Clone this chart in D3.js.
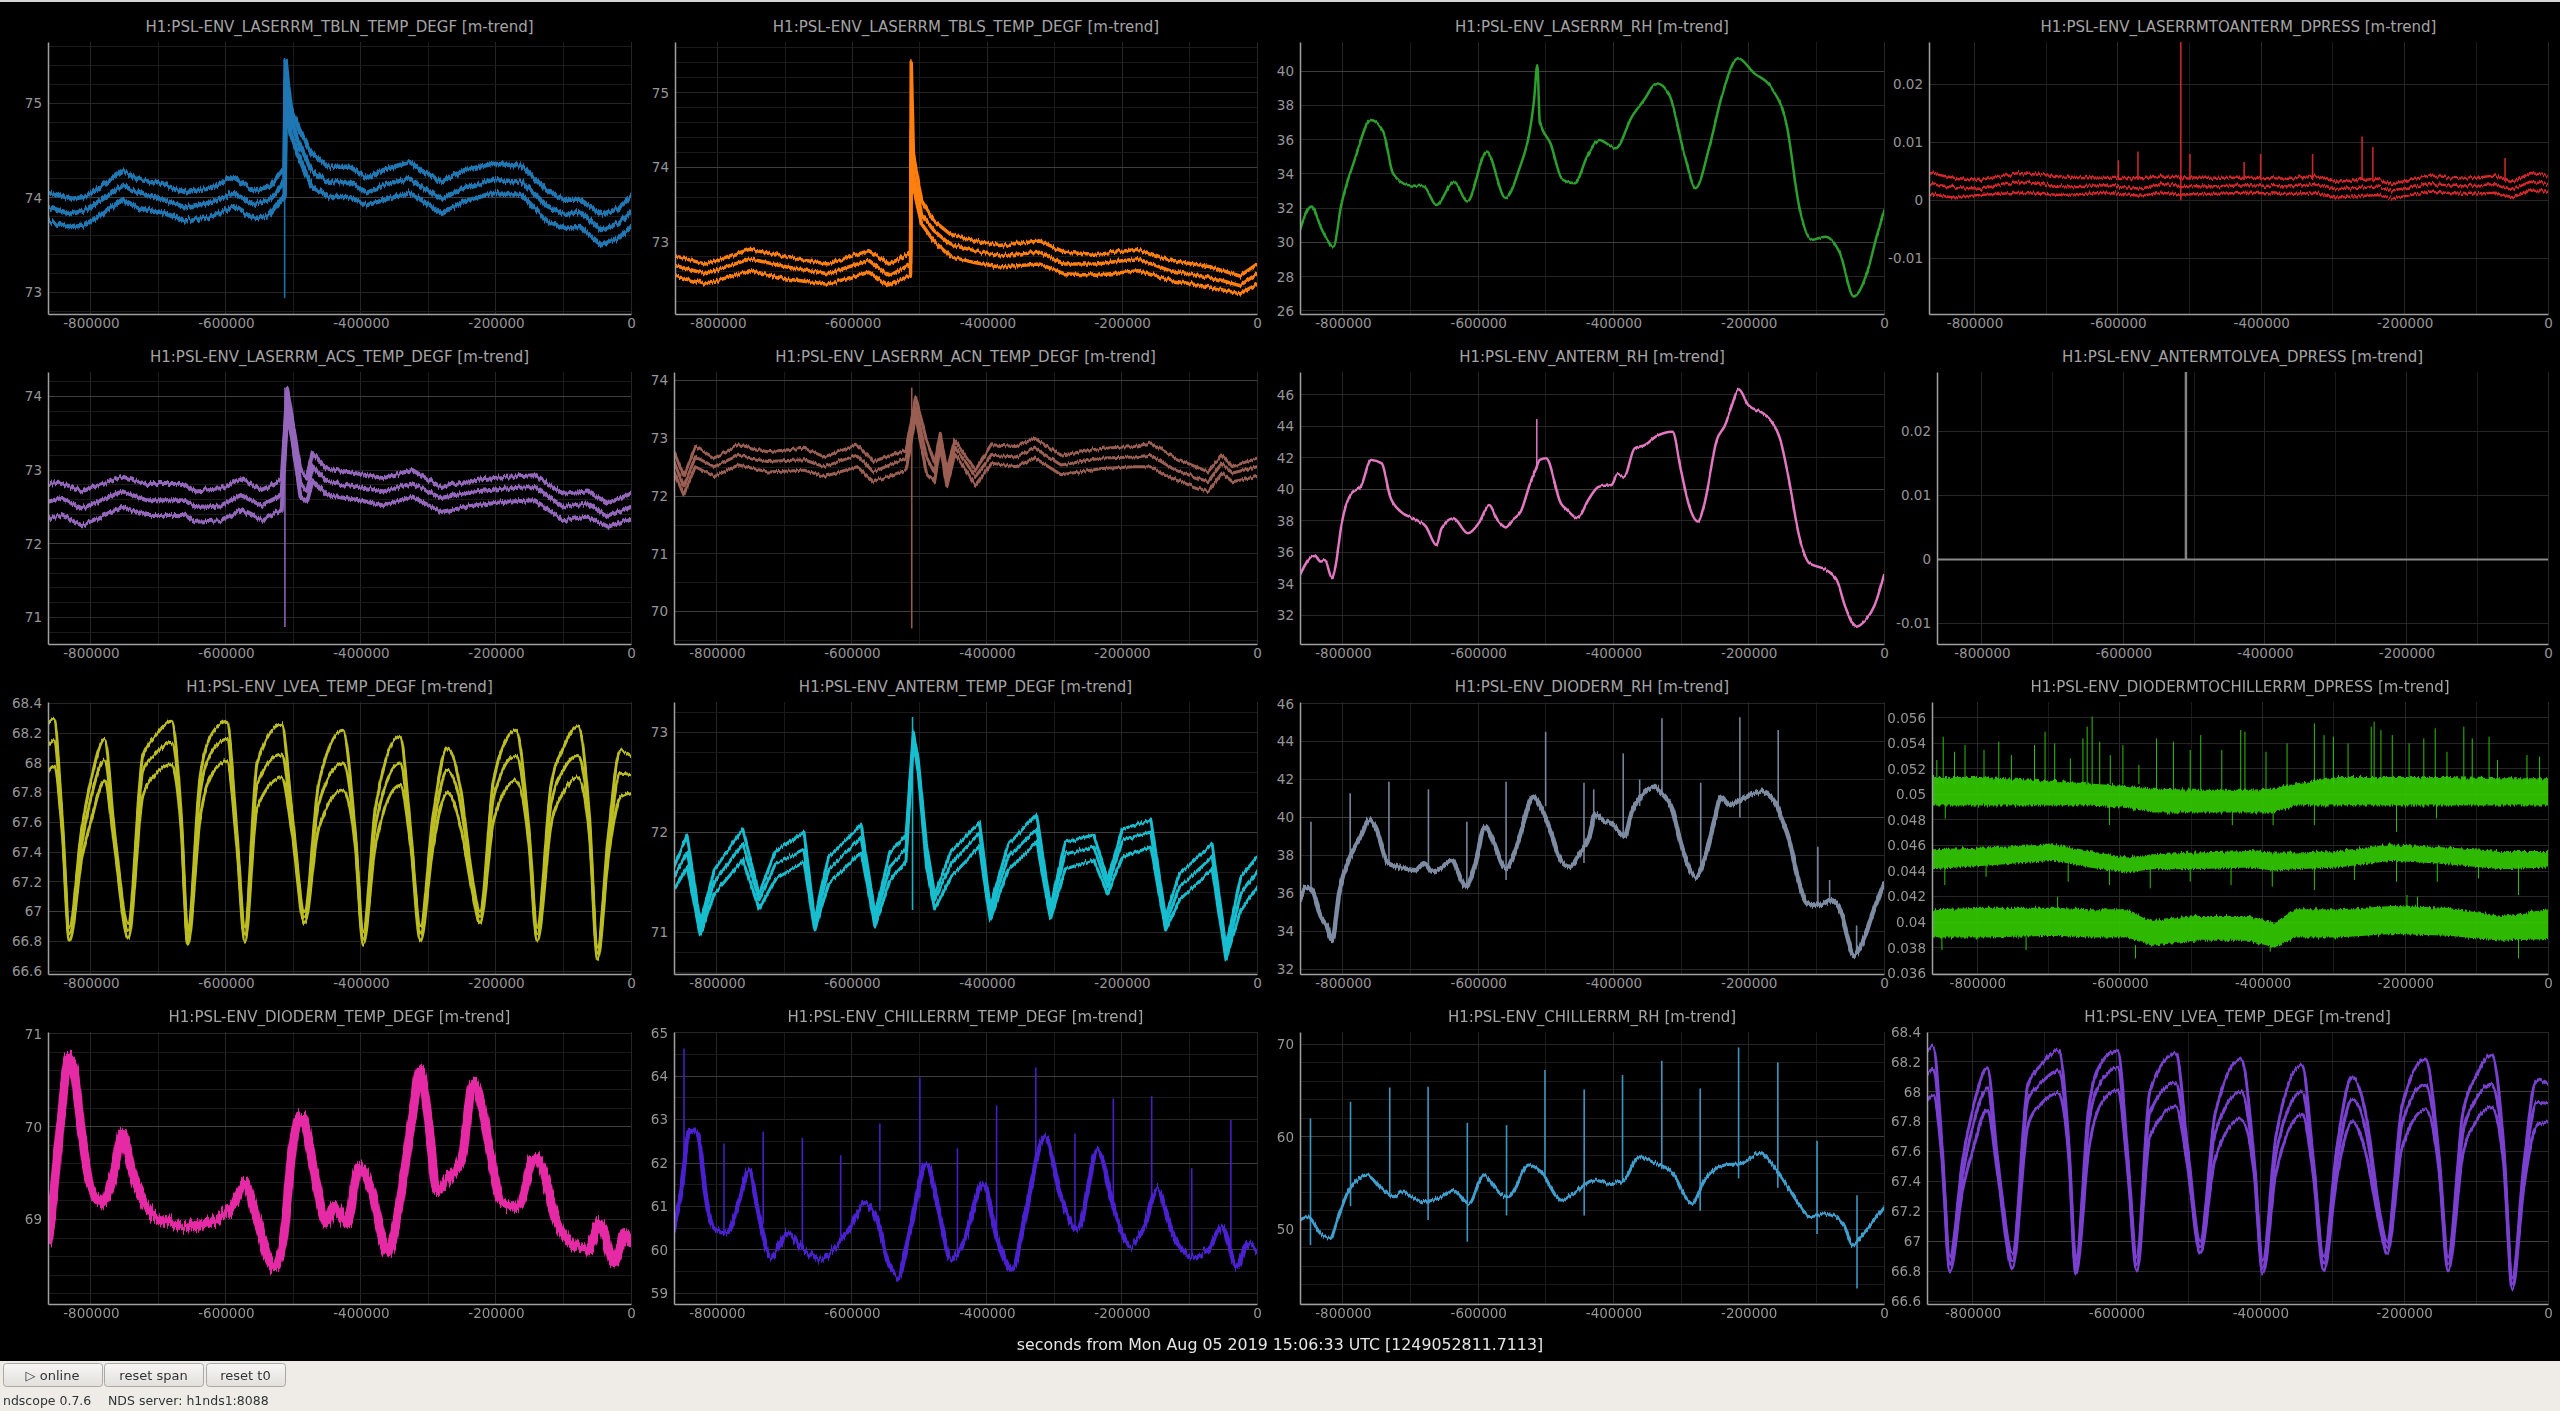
<!DOCTYPE html>
<html>
<head>
<meta charset="utf-8">
<script src="https://cdn.jsdelivr.net/npm/d3@7"></script>
<style>
  html, body { margin: 0; padding: 0; background: #000; }
  body { width: 2560px; height: 1411px; overflow: hidden; font-family: "DejaVu Sans", sans-serif; }
</style>
</head>
<body>
<svg id="chart" width="2560" height="1411"></svg>
<script>
// shared time axis (seconds before t0)
const timeDomain = [-863500, 0];
const timeTicks = [-800000, -600000, -400000, -200000, 0];

// LASERRM_TBLN_TEMP_DEGF
const tblnTicks = [73, 74, 75];
const tblnT = [-863600,-828000,-809000,-784000,-753000,-728000,-697000,-660000,-623000,-588000,-560000,-535000,-518000,-513000,-511500,-508000,-504000,-492000,-473000,-448000,-417000,-392000,-361000,-327000,-311000,-280000,-249000,-205000,-162000,-125000,-100000,-75000,-44000,-19000,0];
const tblnMax = [74.06,73.99,74.01,74.12,74.29,74.19,74.15,74.06,74.10,74.22,74.08,74.12,74.27,74.32,75.45,75.19,74.96,74.73,74.47,74.33,74.33,74.22,74.31,74.38,74.29,74.17,74.29,74.36,74.34,74.08,73.98,73.98,73.82,73.89,74.01];
const tblnMean = [73.90,73.83,73.87,73.98,74.13,74.05,73.99,73.90,73.95,74.05,73.93,73.98,74.12,74.18,75.25,75.03,74.85,74.57,74.29,74.16,74.17,74.06,74.15,74.20,74.12,73.99,74.10,74.19,74.17,73.92,73.83,73.85,73.66,73.73,73.85];
const tblnMin = [73.75,73.69,73.71,73.83,73.98,73.89,73.85,73.76,73.80,73.91,73.78,73.82,73.98,74.02,75.00,74.85,74.68,74.43,74.12,74.01,74.01,73.92,73.99,74.05,73.98,73.83,73.96,74.05,74.03,73.76,73.68,73.69,73.50,73.57,73.69];
const tblnSpikes = [[-513000, 72.94, 75.48]];

// LASERRM_TBLS_TEMP_DEGF
const tblsTicks = [73, 74, 75];
const tblsT = [-863500,-818600,-752000,-697500,-637000,-576000,-546000,-522000,-514000,-513000,-509800,-497700,-479500,-455000,-419000,-382700,-322000,-285800,-237400,-176800,-128400,-67800,-25400,0];
const tblsMax = [72.81,72.70,72.90,72.79,72.70,72.88,72.70,72.81,72.85,75.40,74.17,73.55,73.28,73.10,73.01,72.95,73.01,72.86,72.83,72.90,72.75,72.66,72.54,72.70];
const tblsMean = [72.68,72.57,72.77,72.66,72.57,72.75,72.54,72.66,72.70,74.50,73.91,73.37,73.15,72.96,72.88,72.81,72.86,72.70,72.70,72.77,72.61,72.52,72.41,72.57];
const tblsMin = [72.54,72.43,72.61,72.50,72.43,72.59,72.41,72.52,72.55,74.20,73.73,73.24,73.01,72.80,72.72,72.66,72.70,72.57,72.55,72.61,72.48,72.39,72.30,72.43];
const tblsSpikes = [[-513500, 72.6, 75.45]];

// LASERRM_RH
const laserRhTicks = [26, 28, 30, 32, 34, 36, 38, 40];
const laserRhT = [-863500,-846600,-831000,-814000,-803000,-782700,-758600,-740500,-726000,-704300,-680000,-662100,-635600,-616300,-587300,-559600,-541500,-517400,-512600,-509000,-493200,-475100,-457100,-439000,-420900,-396800,-372700,-354600,-336500,-318400,-294300,-278600,-258100,-240000,-215900,-191800,-167600,-143500,-125400,-107300,-86800,-65100,-44600,-25300,-10900,0];
const laserRh = [30.73,32.1,30.73,29.76,32.1,34.82,37.16,36.48,34.04,33.36,33.26,32.19,33.56,32.39,35.31,32.6,34.04,38.33,40.37,37.06,35.79,33.65,33.46,35.02,35.99,35.5,37.35,38.33,39.3,38.71,35.02,33.17,35.6,38.52,40.76,39.88,39.1,36.77,32.1,30.15,30.34,29.37,26.84,28.2,30.34,31.8];

// LASERRMTOANTERM_DPRESS
const lapTicks = [-0.01, 0, 0.01, 0.02];
const lapT = [-863500,-829000,-792800,-738300,-678000,-617400,-569000,-538800,-514000,-478300,-417900,-357400,-327000,-296900,-236400,-218300,-163900,-115500,-73200,-49000,-24800,0];
const lapMax = [0.0047,0.0039,0.0035,0.0047,0.0041,0.0039,0.0038,0.0041,0.0040,0.0039,0.0039,0.0037,0.0043,0.0032,0.0037,0.0028,0.0043,0.0037,0.0043,0.0032,0.0047,0.0043];
const lapMean = [0.0028,0.0023,0.0020,0.0032,0.0024,0.0026,0.0020,0.0028,0.0025,0.0024,0.0026,0.0024,0.0028,0.0019,0.0024,0.0017,0.0028,0.0024,0.0028,0.0019,0.0032,0.0028];
const lapMin = [0.0011,0.0005,0.0009,0.0013,0.0009,0.0013,0.0008,0.0013,0.0010,0.0011,0.0013,0.0011,0.0013,0.0005,0.0009,0.0003,0.0015,0.0011,0.0013,0.0005,0.0017,0.0015];
const lapSpikes = [[-599300,0.0035,0.0069],[-572000,0.0035,0.0084],[-512200,0,0.0275],[-499500,0.0035,0.0080],[-423900,0.0035,0.0066],[-400900,0.0035,0.0080],[-328400,0.0035,0.0080],[-259400,0.0035,0.0110],[-244300,0.0035,0.0092],[-59900,0.0035,0.0073]];

// LASERRM_ACS_TEMP_DEGF
const acsTicks = [71, 72, 73, 74];
const acsT = [-863500,-844000,-813700,-753200,-717000,-662500,-644400,-608100,-577900,-547700,-517400,-509000,-499300,-489600,-480000,-471500,-451000,-402600,-366300,-324000,-281700,-233300,-185000,-142700,-100300,-64100,-33900,0];
const acsMax = [72.81,72.83,72.71,72.91,72.81,72.81,72.71,72.74,72.89,72.73,72.86,74.09,73.54,73.00,72.91,73.23,73.02,72.95,72.89,73.00,72.77,72.86,72.91,72.93,72.68,72.71,72.55,72.68];
const acsMean = [72.57,72.62,72.48,72.71,72.59,72.59,72.50,72.52,72.66,72.52,72.66,73.93,73.41,72.82,72.73,73.05,72.84,72.77,72.71,72.82,72.62,72.71,72.75,72.77,72.50,72.55,72.37,72.50];
const acsMin = [72.34,72.39,72.25,72.50,72.39,72.39,72.30,72.32,72.46,72.32,72.46,73.81,73.27,72.64,72.57,72.86,72.66,72.59,72.52,72.64,72.43,72.52,72.57,72.59,72.32,72.37,72.23,72.34];
const acsSpikes = [[-512600, 70.87, 74.12]];

// LASERRM_ACN_TEMP_DEGF
const acnTicks = [70, 71, 72, 73, 74];
const acnT = [-863500,-849000,-832000,-804000,-767700,-725400,-671000,-640800,-592400,-568200,-519900,-505400,-489600,-477500,-469100,-459400,-447300,-417100,-392900,-356700,-328900,-290200,-229700,-181400,-157200,-120900,-72500,-52000,-36300,0];
const acnMax = [72.77,72.34,72.86,72.66,72.89,72.77,72.83,72.68,72.89,72.60,72.80,73.72,72.97,72.57,73.09,72.45,72.97,72.45,72.89,72.86,73.00,72.71,72.83,72.86,72.92,72.66,72.42,72.71,72.51,72.66];
const acnMean = [72.60,72.16,72.68,72.51,72.71,72.60,72.63,72.51,72.71,72.42,72.66,73.55,72.68,72.40,72.97,72.31,72.86,72.34,72.71,72.68,72.83,72.54,72.66,72.68,72.71,72.45,72.25,72.57,72.40,72.51];
const acnMin = [72.42,72.02,72.51,72.34,72.54,72.42,72.45,72.34,72.51,72.25,72.45,73.38,72.40,72.25,72.86,72.16,72.74,72.19,72.57,72.51,72.66,72.37,72.48,72.51,72.51,72.28,72.08,72.40,72.25,72.34];
const acnSpikes = [[-511400, 69.71, 73.88]];

// ANTERM_RH
const antRhTicks = [32, 34, 36, 38, 40, 42, 44, 46];
const antRhT = [-863500,-842300,-833000,-826700,-816100,-811100,-801800,-787500,-773800,-758200,-742700,-730200,-714600,-692800,-677300,-661700,-654200,-636800,-615000,-599400,-583800,-571400,-558900,-549600,-537100,-521500,-515200,-509000,-499600,-477800,-468400,-452900,-437300,-421700,-403000,-393600,-384300,-368700,-353100,-337500,-312700,-300300,-287800,-275300,-266000,-247300,-234900,-225500,-214900,-200600,-178800,-166300,-153900,-141400,-125800,-110300,-85400,-69800,-57300,-41700,-26200,-13700,0];
const antRh = [34.56,35.83,35.41,35.51,34.35,35.09,37.84,39.74,40.16,41.86,41.64,39.53,38.58,38.09,37.63,36.46,37.52,38.16,37.2,37.84,39.0,38.05,37.58,38.05,38.58,40.59,41.22,41.86,41.96,39.11,38.68,38.16,39.32,40.16,40.27,40.97,40.8,42.6,42.81,43.34,43.65,41.22,38.9,37.95,39.0,43.12,44.08,45.24,46.34,45.34,44.82,44.29,43.23,40.8,37.1,35.3,34.88,34.24,32.55,31.28,31.75,32.66,34.56];
const antRhSpikes = [[-513400, 41.3, 44.45]];

// ANTERMTOLVEA_DPRESS
const alvTicks = [-0.01, 0, 0.01, 0.02];
const alvT = [-863500, 0];
const alvV = [0, 0];
const alvSpikes = [[-511700, 0, 0.0293]];

// LVEA_TEMP_DEGF (shown twice)
const lveaTicks = [66.6, 66.8, 67, 67.2, 67.4, 67.6, 67.8, 68, 68.2, 68.4];
const lveaT = [-863500,-854800,-842700,-831800,-813700,-799100,-779800,-765300,-744700,-723000,-704800,-680700,-666200,-656500,-638400,-620200,-598500,-584000,-571900,-553700,-517500,-501700,-483600,-463000,-426800,-408600,-396600,-378400,-342100,-326400,-311900,-293800,-272000,-251500,-235800,-223700,-203100,-170500,-151100,-139000,-118500,-100300,-78600,-61700,-49600,-33900,-15700,0];
const lveaMax = [68.27,68.30,67.65,66.90,67.55,67.90,68.16,67.55,66.92,68.05,68.18,68.28,67.65,66.87,67.90,68.20,68.28,67.55,66.90,68.00,68.26,67.65,67.00,67.85,68.22,67.55,66.87,67.70,68.18,67.55,66.90,67.62,68.10,67.80,67.25,67.00,67.90,68.22,67.55,66.90,67.85,68.10,68.25,67.65,66.76,67.50,68.08,68.05];
const lveaMean = [68.12,68.15,67.60,66.85,67.45,67.78,68.02,67.50,66.87,67.95,68.06,68.14,67.60,66.82,67.80,68.08,68.16,67.50,66.85,67.86,68.06,67.58,66.96,67.72,68.00,67.50,66.82,67.58,68.00,67.50,66.85,67.52,67.95,67.70,67.20,66.96,67.78,68.05,67.50,66.85,67.72,67.95,68.05,67.58,66.72,67.42,67.93,67.92];
const lveaMin = [67.94,67.98,67.55,66.80,67.35,67.62,67.88,67.45,66.82,67.78,67.92,67.99,67.55,66.78,67.62,67.93,68.01,67.45,66.80,67.70,67.90,67.52,66.92,67.55,67.82,67.45,66.78,67.45,67.85,67.45,66.80,67.42,67.80,67.55,67.15,66.92,67.62,67.88,67.45,66.80,67.58,67.80,67.90,67.52,66.68,67.35,67.77,67.80];

// ANTERM_TEMP_DEGF
const antTTicks = [71, 72, 73];
const antTT = [-863500,-844000,-824700,-804000,-761700,-737500,-713300,-671000,-655200,-634700,-586300,-565800,-544000,-519900,-509000,-501700,-489600,-477500,-453400,-411100,-395300,-368700,-326400,-305900,-284100,-241800,-221300,-199500,-157200,-135400,-114900,-66500,-45900,-24200,0];
const antTMax = [71.65,71.97,71.08,71.62,72.03,71.38,71.81,72.00,71.13,71.75,72.07,71.18,71.79,71.97,73.00,72.72,71.88,71.38,71.80,72.10,71.25,71.87,72.18,71.25,71.90,71.97,71.52,72.03,72.12,71.15,71.58,71.88,70.85,71.55,71.75];
const antTMean = [71.55,71.80,71.03,71.50,71.88,71.32,71.68,71.83,71.08,71.62,71.95,71.13,71.65,71.83,72.95,72.65,71.78,71.32,71.68,71.99,71.18,71.75,72.03,71.20,71.78,71.85,71.45,71.92,72.00,71.08,71.45,71.75,70.78,71.38,71.60];
const antTMin = [71.42,71.65,70.97,71.38,71.72,71.23,71.53,71.70,71.02,71.48,71.80,71.05,71.52,71.70,72.90,72.59,71.65,71.23,71.55,71.85,71.12,71.62,71.90,71.13,71.63,71.72,71.38,71.75,71.85,71.02,71.32,71.63,70.73,71.22,71.45];
const antTSpikes = [[-510200, 71.22, 73.15]];

// DIODERM_RH
const dioRhTicks = [32, 34, 36, 38, 40, 42, 44, 46];
const dioRhT = [-863500,-854800,-845400,-833000,-823600,-816100,-804900,-789300,-773800,-761300,-752000,-733300,-717700,-692800,-680300,-667800,-655400,-639800,-618000,-605500,-589900,-580600,-558800,-543300,-518300,-509000,-493400,-480900,-465400,-449800,-434200,-427900,-415500,-399900,-384300,-371800,-359300,-340600,-328200,-312600,-300300,-278400,-262900,-250400,-241000,-228600,-213000,-181900,-160100,-150700,-141400,-128900,-113300,-94700,-79100,-63500,-54200,-44900,-32400,-16800,0];
const dioRh = [35.64,36.34,36.17,34.76,34.23,33.53,36.17,37.93,38.98,39.86,39.51,37.58,37.40,37.22,37.58,37.14,37.31,37.75,36.34,37.40,39.51,38.98,37.31,38.45,41.09,40.65,39.33,37.93,37.40,38.10,39.16,40.21,39.86,39.60,38.98,40.39,41.09,41.62,41.27,40.39,38.63,36.87,38.10,39.86,41.09,40.65,40.91,41.35,40.74,39.86,38.98,37.04,35.46,35.38,35.64,35.03,33.71,32.74,33.36,34.94,36.52];
const dioRhSpikes = [[-847300,36.2,39.77],[-789300,37.9,41.27],[-732000,37.6,41.88],[-673600,37.4,41.48],[-616800,36.4,39.77],[-558800,36.7,41.88],[-500300,40.6,44.52],[-443600,37.6,41.83],[-429200,39.5,41.48],[-385600,38.9,43.38],[-361300,40.6,42.0],[-328300,41.3,45.23],[-271000,37.5,41.83],[-213100,40.0,45.28],[-156400,40.4,44.61],[-97800,35.4,38.45],[-80400,35.5,36.7],[-40500,32.9,34.3]];

// DIODERMTOCHILLERRM_DPRESS (min / mean / max envelopes)
const dpTicks = [0.036, 0.038, 0.04, 0.042, 0.044, 0.046, 0.048, 0.05, 0.052, 0.054, 0.056];
const dpT = [-863200,-790600,-690300,-643100,-590000,-554600,-495600,-418900,-383500,-354000,-295000,-218300,-141600,-64900,0];
const dpMaxHi = [0.0513,0.0513,0.0510,0.0508,0.0506,0.0504,0.0503,0.0503,0.0504,0.0508,0.0513,0.0513,0.0513,0.0512,0.0512];
const dpMaxLo = [0.0492,0.0492,0.0492,0.0492,0.0490,0.04865,0.04865,0.04865,0.04865,0.0492,0.0492,0.0492,0.0492,0.0492,0.0492];
const dpMeanHi = [0.04565,0.04578,0.04604,0.04552,0.04500,0.04526,0.04539,0.04552,0.04539,0.04539,0.04552,0.04604,0.04578,0.04552,0.04552];
const dpMeanLo = [0.04421,0.04447,0.04487,0.04434,0.04395,0.04421,0.04421,0.04434,0.04408,0.04421,0.04434,0.04487,0.04460,0.04421,0.04434];
const dpMinHi = [0.04095,0.04108,0.04108,0.04095,0.04095,0.04004,0.04043,0.04043,0.0399,0.04095,0.04095,0.04122,0.04108,0.04043,0.04095];
const dpMinLo = [0.03887,0.03887,0.03900,0.03887,0.03887,0.03822,0.03861,0.03861,0.03809,0.03887,0.03887,0.03913,0.03900,0.03861,0.03874];
const dpSpikes = [
  [-856700,0.0508,0.05269],[-847800,0.0508,0.05451],[-831900,0.0508,0.05334],[-817200,0.0508,0.05386],[-790600,0.0508,0.05347],
  [-769900,0.0508,0.05412],[-752200,0.0508,0.05308],[-719800,0.0508,0.05386],[-705000,0.0508,0.05490],[-691500,0.0508,0.05399],
  [-669600,0.0508,0.05282],[-651900,0.0508,0.05438],[-646000,0.0508,0.05530],[-639000,0.0508,0.05608],[-628400,0.0508,0.05412],
  [-613600,0.0508,0.05308],[-595900,0.0508,0.05386],[-573500,0.0508,0.05230],[-548700,0.0503,0.05438],[-525100,0.0503,0.05412],
  [-501500,0.0503,0.05347],[-486800,0.0503,0.05464],[-457300,0.0503,0.05347],[-430700,0.0503,0.05504],[-424800,0.0503,0.05490],
  [-395300,0.0503,0.05334],[-365800,0.0503,0.05399],[-327500,0.0508,0.05556],[-313900,0.0508,0.05464],[-300900,0.0508,0.05451],
  [-280300,0.0508,0.05399],[-247800,0.0508,0.05530],[-243700,0.0508,0.05569],[-234200,0.0508,0.05504],[-218300,0.0508,0.05464],
  [-194700,0.0508,0.05399],[-174100,0.0508,0.05438],[-158100,0.0508,0.05517],[-141600,0.0508,0.05334],[-118000,0.0508,0.05530],
  [-106200,0.0508,0.05438],[-82600,0.0508,0.05451],[-70800,0.0508,0.05269],[-29500,0.0508,0.05308],[-11800,0.0508,0.05295],
  [-844900,0.0481,0.0492],[-614800,0.0476,0.0492],[-442500,0.0476,0.0487],[-385300,0.0476,0.0487],[-327500,0.0476,0.0492],
  [-212400,0.04708,0.0492],[-156400,0.04813,0.0492],
  [-845500,0.04291,0.0445],[-787700,0.04356,0.0445],[-672600,0.04317,0.0445],[-614800,0.04291,0.0444],[-557600,0.04265,0.0444],
  [-501500,0.04317,0.0444],[-444300,0.04291,0.0444],[-386500,0.04278,0.0444],[-327500,0.04252,0.0444],[-271400,0.0433,0.0445],
  [-212400,0.04317,0.0448],[-155200,0.04317,0.0446],[-97400,0.04343,0.0445],[-41300,0.04213,0.0445],
  [-687400,0.0409,0.0420],[-197700,0.0411,0.04213],[-182900,0.0411,0.0420],
  [-849600,0.03783,0.0389],[-731600,0.03783,0.0389],[-578200,0.03717,0.0382],[-389400,0.0377,0.0381],[-41300,0.03717,0.0386]
];

// DIODERM_TEMP_DEGF
const dtTicks = [69, 70, 71];
const dtT = [-863500,-858600,-852600,-844000,-831800,-825800,-813700,-801600,-783400,-765300,-753200,-741100,-723000,-704800,-680700,-650400,-626200,-608100,-590000,-571900,-553700,-529500,-517400,-499300,-487200,-469000,-450900,-438800,-420700,-402600,-384500,-360300,-342100,-324000,-311900,-299800,-287700,-269600,-251500,-233300,-218800,-209200,-191100,-166900,-142700,-130600,-112400,-88300,-64100,-45900,-25400,-9700,0];
const dtV = [68.75,69.03,69.46,70.11,70.75,70.65,69.93,69.39,69.18,69.51,69.93,69.57,69.21,69.03,68.96,68.92,68.96,69.03,69.14,69.39,68.99,68.49,68.67,69.89,70.11,69.50,68.96,69.14,68.96,69.57,69.32,68.64,69.21,70.11,70.61,70.04,69.32,69.46,69.64,70.47,70.14,69.75,69.18,69.14,69.68,69.54,69.03,68.75,68.67,68.96,68.53,68.85,68.75];

// CHILLERRM_TEMP_DEGF
const chilTicks = [59, 60, 61, 62, 63, 64, 65];
const chilT = [-863500,-852600,-840500,-828400,-816300,-804200,-786100,-768000,-752300,-737800,-719600,-695400,-671300,-647100,-628900,-604500,-580500,-562200,-550100,-532000,-513800,-489600,-471500,-453400,-435200,-405000,-386800,-362700,-344500,-314300,-290200,-266000,-235800,-211600,-187400,-169300,-147500,-127000,-96700,-72500,-52000,-30200,-12100,0];
const chilV = [60.46,61.38,62.76,62.68,61.22,60.53,60.38,61.07,61.84,60.77,59.84,60.38,60.0,59.77,60.0,60.46,61.07,60.69,59.92,59.38,60.46,61.99,60.92,59.77,60.15,61.53,60.38,59.54,60.69,62.61,61.22,60.46,62.30,60.92,60.08,60.46,61.38,60.46,59.84,60.0,60.53,59.61,60.15,60.0];
const chilSpikes = [[-848700,61.5,64.64],[-789500,60.4,62.45],[-731400,60.6,62.72],[-673400,60.0,62.58],[-616600,60.3,62.18],[-558600,60.9,62.91],[-499300,61.2,63.97],[-443700,60.0,62.34],[-385700,60.5,63.33],[-327600,62.0,64.2],[-269600,60.5,62.68],[-212800,61.0,63.49],[-156000,61.0,63.54],[-96700,59.8,61.88],[-38700,60.0,62.99]];

// CHILLERRM_RH
const crTicks = [50, 60, 70];
const crT = [-863700,-851600,-833500,-819000,-806900,-791200,-763400,-742900,-724800,-712700,-694600,-682500,-658300,-637800,-613600,-591900,-567700,-555600,-525400,-507300,-477100,-452900,-428700,-404600,-386500,-362300,-338100,-314000,-283800,-265700,-235500,-211400,-183600,-157000,-132900,-108700,-84600,-60400,-45900,-30200,0];
const crV = [50.99,51.35,49.55,49.01,51.35,54.23,55.86,54.41,53.51,54.05,53.33,52.97,53.33,54.23,52.79,55.86,53.87,53.51,56.94,56.22,53.15,54.23,55.32,54.95,55.14,57.84,57.12,56.22,52.79,55.32,56.94,57.12,58.20,56.22,53.51,51.35,51.71,50.63,48.29,49.55,52.43];
const crSpikes = [[-848000,48.3,61.98],[-788800,52.5,63.78],[-730800,53.5,65.33],[-674100,51.0,65.41],[-616100,48.65,61.51],[-558100,51.5,61.26],[-501300,55.5,67.21],[-443300,51.5,65.12],[-386600,55.0,66.67],[-328600,56.5,68.22],[-271800,52.0,65.23],[-215000,55.5,69.66],[-157000,54.5,68.04],[-99000,49.5,59.57],[-39900,43.6,53.69]];

// ---------------------------------------------------------------
const W = 2560, H = 1411;
const colRight = [631, 1257, 1884, 2548];
const rowTop = r => 42 + 330 * r;
const rowBottom = r => 314 + 330 * r;

// jitter: amplitude (px) of the trend noise texture drawn over each trace
const panels = [
  { title: "H1:PSL-ENV_LASERRM_TBLN_TEMP_DEGF [m-trend]", col: 0, row: 0, left: 48, dom: [72.77, 75.65], ticks: tblnTicks, grid: [2, 1, 0.2], color: "#1f77b4", sw: 4.5, jitter: 8, t: tblnT, lines: [tblnMax, tblnMean, tblnMin], spikes: tblnSpikes },
  { title: "H1:PSL-ENV_LASERRM_TBLS_TEMP_DEGF [m-trend]", col: 1, row: 0, left: 675, dom: [72.03, 75.68], ticks: tblsTicks, grid: [2, 1, 0.2], color: "#ff7f0e", sw: 3.5, jitter: 6, t: tblsT, lines: [tblsMax, tblsMean, tblsMin], spikes: tblsSpikes },
  { title: "H1:PSL-ENV_LASERRM_RH [m-trend]", col: 2, row: 0, left: 1300, dom: [25.82, 41.71], ticks: laserRhTicks, grid: [10, 2, 2], color: "#2ca02c", sw: 2.5, jitter: 3, curve: true, t: laserRhT, lines: [laserRh], spikes: [] },
  { title: "H1:PSL-ENV_LASERRMTOANTERM_DPRESS [m-trend]", col: 3, row: 0, left: 1929, dom: [-0.0196, 0.0273], ticks: lapTicks, grid: [null, 0.01, 0.01], color: "#d62728", sw: 2.5, jitter: 6, t: lapT, lines: [lapMax, lapMean, lapMin], spikes: lapSpikes },

  { title: "H1:PSL-ENV_LASERRM_ACS_TEMP_DEGF [m-trend]", col: 0, row: 1, left: 48, dom: [70.64, 74.33], ticks: acsTicks, grid: [2, 1, 0.2], color: "#9467bd", sw: 4, jitter: 7, t: acsT, lines: [acsMax, acsMean, acsMin], spikes: acsSpikes },
  { title: "H1:PSL-ENV_LASERRM_ACN_TEMP_DEGF [m-trend]", col: 1, row: 1, left: 674, dom: [69.44, 74.15], ticks: acnTicks, grid: [2, 1, 0.5], color: "#9a5f52", sw: 3, jitter: 5, t: acnT, lines: [acnMax, acnMean, acnMin], spikes: acnSpikes },
  { title: "H1:PSL-ENV_ANTERM_RH [m-trend]", col: 2, row: 1, left: 1300, dom: [30.18, 47.44], ticks: antRhTicks, grid: [10, 2, 2], color: "#e377c2", sw: 2.5, jitter: 3, curve: true, t: antRhT, lines: [antRh], spikes: antRhSpikes },
  { title: "H1:PSL-ENV_ANTERMTOLVEA_DPRESS [m-trend]", col: 3, row: 1, left: 1937, dom: [-0.0132, 0.0293], ticks: alvTicks, grid: [null, 0.01, 0.01], color: "#8a8a8a", sw: 2, jitter: 0, t: alvT, lines: [alvV], spikes: alvSpikes, spikeW: 2.5 },

  { title: "H1:PSL-ENV_LVEA_TEMP_DEGF [m-trend]", col: 0, row: 2, left: 48, dom: [66.58, 68.41], ticks: lveaTicks, grid: [1, 0.2, 0.2], color: "#bcbd22", sw: 3, jitter: 6, curve: true, t: lveaT, lines: [lveaMax, lveaMean, lveaMin], spikes: [] },
  { title: "H1:PSL-ENV_ANTERM_TEMP_DEGF [m-trend]", col: 1, row: 2, left: 674, dom: [70.58, 73.30], ticks: antTTicks, grid: [2, 1, 0.2], color: "#17becf", sw: 3, jitter: 6, t: antTT, lines: [antTMax, antTMean, antTMin], spikes: antTSpikes },
  { title: "H1:PSL-ENV_DIODERM_RH [m-trend]", col: 2, row: 2, left: 1300, dom: [31.74, 46.09], ticks: dioRhTicks, grid: [10, 2, 2], color: "#7d8ca3", sw: 4.5, jitter: 7, curve: true, t: dioRhT, lines: [dioRh], spikes: dioRhSpikes },
  { title: "H1:PSL-ENV_DIODERMTOCHILLERRM_DPRESS [m-trend]", col: 3, row: 2, left: 1932, dom: [0.03595, 0.05723], ticks: dpTicks, grid: [0.01, 0.002, 0.002], color: "#33cc00", jitter: 6, t: dpT, bands: [[dpMaxLo, dpMaxHi], [dpMeanLo, dpMeanHi], [dpMinLo, dpMinHi]], lines: [], spikes: dpSpikes, spikeW: 1 },

  { title: "H1:PSL-ENV_DIODERM_TEMP_DEGF [m-trend]", col: 0, row: 3, left: 48, dom: [68.09, 71.02], ticks: dtTicks, grid: [2, 1, 0.2], color: "#e62aa6", sw: 9, jitter: 16, curve: true, t: dtT, lines: [dtV], spikes: [] },
  { title: "H1:PSL-ENV_CHILLERRM_TEMP_DEGF [m-trend]", col: 1, row: 3, left: 674, dom: [58.75, 65.02], ticks: chilTicks, grid: [2, 1, 0.5], color: "#4b20d0", sw: 4.5, jitter: 13, curve: true, t: chilT, lines: [chilV], spikes: chilSpikes },
  { title: "H1:PSL-ENV_CHILLERRM_RH [m-trend]", col: 2, row: 3, left: 1300, dom: [41.92, 71.33], ticks: crTicks, grid: [20, 10, 2], color: "#3f9fcf", sw: 3, jitter: 6, curve: true, t: crT, lines: [crV], spikes: crSpikes },
  { title: "H1:PSL-ENV_LVEA_TEMP_DEGF [m-trend]", col: 3, row: 3, left: 1927, dom: [66.58, 68.40], ticks: lveaTicks, grid: [1, 0.2, 0.2], color: "#7a40d0", sw: 3, jitter: 6, curve: true, t: lveaT, lines: [lveaMax, lveaMean, lveaMin], spikes: [] }
];

const fmt = v => String(+v.toFixed(6));
const isMult = (v, s) => s != null && Math.abs(v / s - Math.round(v / s)) < 1e-6;
function steps(lo, hi, s) {
  const out = [];
  for (let k = Math.ceil(lo / s - 1e-9); k * s <= hi + 1e-12; k++) out.push(k * s);
  return out;
}

const svg = d3.select("#chart");
svg.append("rect").attr("width", W).attr("height", H).attr("fill", "#000");
svg.append("rect").attr("width", W).attr("height", 2).attr("fill", "#d6d6d6");
const defs = svg.append("defs");

// texture filter: vertical-only displacement gives traces the fuzzy m-trend look
function jitterFilter(id, amount) {
  const f = defs.append("filter").attr("id", id).attr("filterUnits", "userSpaceOnUse")
    .attr("x", 0).attr("y", 0).attr("width", W).attr("height", H)
    .attr("color-interpolation-filters", "sRGB");
  f.append("feTurbulence").attr("type", "fractalNoise").attr("baseFrequency", "0.6 0.03")
    .attr("numOctaves", 2).attr("seed", 3).attr("result", "n");
  f.append("feColorMatrix").attr("in", "n").attr("type", "matrix")
    .attr("values", "0 0 0 0 0.5  0 1 0 0 0  0 0 0 0 0  0 0 0 0 1").attr("result", "m");
  f.append("feDisplacementMap").attr("in", "SourceGraphic").attr("in2", "m")
    .attr("scale", amount).attr("xChannelSelector", "R").attr("yChannelSelector", "G");
}

panels.forEach((p, i) => {
  const top = rowTop(p.row), bottom = rowBottom(p.row), right = colRight[p.col];
  const x = d3.scaleLinear().domain(timeDomain).range([p.left, right]);
  const y = d3.scaleLinear().domain(p.dom).range([bottom, top]);
  const g = svg.append("g");

  defs.append("clipPath").attr("id", "clip" + i)
    .append("rect").attr("x", p.left).attr("y", top).attr("width", right - p.left).attr("height", bottom - top);

  // grid
  const grid = g.append("g").attr("shape-rendering", "crispEdges");
  steps(timeDomain[0], timeDomain[1], 100000).forEach(v => {
    grid.append("line").attr("x1", x(v)).attr("x2", x(v)).attr("y1", top).attr("y2", bottom)
      .attr("stroke", isMult(v, 200000) ? "#262626" : "#1a1a1a");
  });
  const [bright, lab, minor] = p.grid;
  steps(p.dom[0], p.dom[1], minor).forEach(v => {
    const c = isMult(v, bright) ? "#3e3e3e" : isMult(v, lab) ? "#262626" : "#1a1a1a";
    grid.append("line").attr("x1", p.left).attr("x2", right).attr("y1", y(v)).attr("y2", y(v)).attr("stroke", c);
  });

  const clip = g.append("g").attr("clip-path", "url(#clip" + i + ")");
  const plot = clip.append("g");
  if (p.jitter) {
    jitterFilter("jit" + i, p.jitter);
    plot.attr("filter", "url(#jit" + i + ")");
  }

  (p.bands || []).forEach(([lo, hi]) => {
    const area = d3.area().x(d => x(d[0])).y0(d => y(d[1])).y1(d => y(d[2]));
    plot.append("path").datum(d3.zip(p.t, lo, hi)).attr("d", area)
      .attr("fill", p.color).attr("stroke", p.color).attr("stroke-width", 1.5).attr("opacity", 0.9);
  });

  p.lines.forEach(vals => {
    const line = d3.line().x(d => x(d[0])).y(d => y(d[1]));
    if (p.curve) line.curve(d3.curveMonotoneX);
    plot.append("path").datum(d3.zip(p.t, vals)).attr("d", line)
      .attr("fill", "none").attr("stroke", p.color).attr("stroke-width", p.sw)
      .attr("stroke-linejoin", "round").attr("stroke-linecap", "round");
  });

  clip.selectAll("line.spike").data(p.spikes).join("line").attr("class", "spike")
    .attr("x1", d => x(d[0])).attr("x2", d => x(d[0]))
    .attr("y1", d => y(d[1])).attr("y2", d => y(d[2]))
    .attr("stroke", p.color).attr("stroke-width", p.spikeW || 1.6).attr("opacity", 0.95);

  // axes
  const ax = d3.axisLeft(y).tickValues(p.ticks).tickFormat(fmt).tickSize(0).tickPadding(6);
  const ay = g.append("g").attr("transform", `translate(${p.left},0)`).call(ax);
  const bx = d3.axisBottom(x).tickValues(timeTicks).tickFormat(fmt).tickSize(0).tickPadding(4);
  const by = g.append("g").attr("transform", `translate(0,${bottom})`).call(bx);
  [ay, by].forEach(a => {
    a.attr("font-family", "DejaVu Sans, sans-serif").attr("font-size", 13.5);
    a.select(".domain").attr("stroke", "#a0a0a0").attr("stroke-width", 1.5);
    a.selectAll("text").attr("fill", "#969696");
  });

  g.append("text").attr("x", (p.left + right) / 2).attr("y", top - 15).attr("dy", "0.35em")
    .attr("text-anchor", "middle").attr("fill", "#a4a4a4")
    .attr("font-size", 15).attr("font-family", "DejaVu Sans, sans-serif")
    .text(p.title);
});

svg.append("text").attr("x", 1280).attr("y", 1344).attr("dy", "0.35em").attr("text-anchor", "middle")
  .attr("fill", "#e6e6e6").attr("font-size", 15.8).attr("font-family", "DejaVu Sans, sans-serif")
  .text("seconds from Mon Aug 05 2019 15:06:33 UTC [1249052811.7113]");

// bottom control bar
svg.append("rect").attr("x", 0).attr("y", 1361).attr("width", W).attr("height", H - 1361).attr("fill", "#efebe7");
const grad = defs.append("linearGradient").attr("id", "btn").attr("x1", 0).attr("y1", 0).attr("x2", 0).attr("y2", 1);
grad.append("stop").attr("offset", 0).attr("stop-color", "#f8f7f6");
grad.append("stop").attr("offset", 1).attr("stop-color", "#e2dfdb");
const buttons = [["\u25B7 online", 3, 99], ["reset span", 104, 99], ["reset t0", 206, 79]];
buttons.forEach(([label, bx, bw]) => {
  svg.append("rect").attr("x", bx + 0.5).attr("y", 1363.5).attr("width", bw).attr("height", 23).attr("rx", 3)
    .attr("fill", "url(#btn)").attr("stroke", "#aca8a4");
  svg.append("text").attr("x", bx + bw / 2).attr("y", 1375).attr("dy", "0.35em").attr("text-anchor", "middle")
    .attr("fill", "#2e3436").attr("font-size", 13).attr("font-family", "DejaVu Sans, sans-serif").text(label);
});
svg.append("text").attr("x", 3).attr("y", 1401).attr("dy", "0.35em").attr("fill", "#2e3436")
  .attr("font-size", 12.5).attr("font-family", "DejaVu Sans, sans-serif").text("ndscope 0.7.6");
svg.append("text").attr("x", 108).attr("y", 1401).attr("dy", "0.35em").attr("fill", "#2e3436")
  .attr("font-size", 12.5).attr("font-family", "DejaVu Sans, sans-serif").text("NDS server: h1nds1:8088");
</script>
</body>
</html>
